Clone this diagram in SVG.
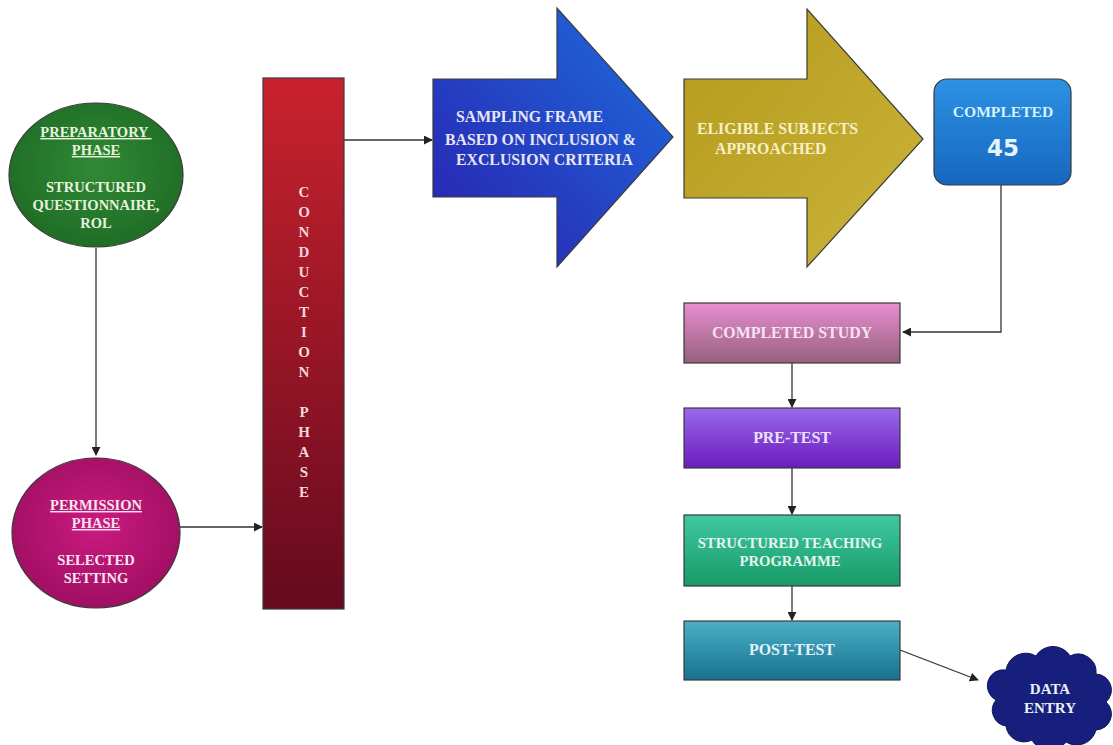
<svg xmlns="http://www.w3.org/2000/svg" width="1113" height="745" viewBox="0 0 1113 745">
<defs>
<style>
.t{font-family:"Liberation Serif","Times New Roman",serif;font-weight:bold;text-anchor:middle;}
.c{stroke:#333;stroke-width:1.3;fill:none;}
.b{stroke:#3a3a3a;stroke-width:1.2;}
</style>
<marker id="ah" viewBox="0 0 10 10" refX="9" refY="5" markerWidth="9" markerHeight="9" markerUnits="userSpaceOnUse" orient="auto">
<path d="M0,0 L10,5 L0,10 Z" fill="#222"/>
</marker>
<radialGradient id="gGreen" cx="0.5" cy="0.45" r="0.6"><stop offset="0" stop-color="#2f8a35"/><stop offset="1" stop-color="#1f6a25"/></radialGradient>
<radialGradient id="gMag" cx="0.5" cy="0.45" r="0.6"><stop offset="0" stop-color="#cc1a80"/><stop offset="1" stop-color="#9c0e60"/></radialGradient>
<linearGradient id="gRed" x1="0" y1="0" x2="0" y2="1"><stop offset="0" stop-color="#c9222e"/><stop offset="1" stop-color="#650a1e"/></linearGradient>
<linearGradient id="gBlue" x1="1" y1="0" x2="0" y2="1"><stop offset="0" stop-color="#1d6ede"/><stop offset="1" stop-color="#2a1fae"/></linearGradient>
<linearGradient id="gGold" x1="0" y1="0" x2="1" y2="1"><stop offset="0" stop-color="#b59a1c"/><stop offset="1" stop-color="#c9b43a"/></linearGradient>
<linearGradient id="gBox" x1="0" y1="0" x2="0" y2="1"><stop offset="0" stop-color="#2c92e4"/><stop offset="1" stop-color="#1766be"/></linearGradient>
<linearGradient id="gPink" x1="0" y1="0" x2="0" y2="1"><stop offset="0" stop-color="#e88ed0"/><stop offset="1" stop-color="#96607e"/></linearGradient>
<linearGradient id="gPurp" x1="0" y1="0" x2="0" y2="1"><stop offset="0" stop-color="#9a68ea"/><stop offset="1" stop-color="#6a1cbe"/></linearGradient>
<linearGradient id="gTeal" x1="0" y1="0" x2="0" y2="1"><stop offset="0" stop-color="#40c8a2"/><stop offset="1" stop-color="#189a68"/></linearGradient>
<linearGradient id="gCyan" x1="0" y1="0" x2="0" y2="1"><stop offset="0" stop-color="#4ab0c6"/><stop offset="1" stop-color="#17708f"/></linearGradient>
</defs>
<rect width="1113" height="745" fill="#ffffff"/>

<g id="connectors">
<line class="c" x1="96" y1="248" x2="96" y2="455" marker-end="url(#ah)"/>
<line class="c" x1="180" y1="527" x2="262" y2="527" marker-end="url(#ah)"/>
<line class="c" x1="344" y1="140" x2="432" y2="140" marker-end="url(#ah)"/>
<polyline class="c" points="1001,185 1001,332 903,332" marker-end="url(#ah)"/>
<line class="c" x1="792" y1="363" x2="792" y2="407" marker-end="url(#ah)"/>
<line class="c" x1="792" y1="468" x2="792" y2="514" marker-end="url(#ah)"/>
<line class="c" x1="792" y1="586" x2="792" y2="620" marker-end="url(#ah)"/>
<line class="c" x1="900" y1="650" x2="978" y2="680" marker-end="url(#ah)"/>
</g>

<g id="preparatory">
<ellipse class="b" cx="96" cy="175" rx="87" ry="72" fill="url(#gGreen)"/>
<text class="t" font-size="14.5" fill="#e6f2dc" text-decoration="underline"><tspan x="96" y="137">PREPARATORY </tspan><tspan x="96" y="155">PHASE</tspan></text>
<text class="t" font-size="14.5" fill="#e6f2dc"><tspan x="96" y="192">STRUCTURED</tspan><tspan x="96" y="210">QUESTIONNAIRE,</tspan><tspan x="96" y="228">ROL</tspan></text>
</g>

<g id="permission">
<ellipse class="b" cx="96" cy="533" rx="84" ry="75" fill="url(#gMag)"/>
<text class="t" font-size="14.5" fill="#f7e4f0" text-decoration="underline"><tspan x="96" y="510">PERMISSION</tspan><tspan x="96" y="528">PHASE</tspan></text>
<text class="t" font-size="14.5" fill="#f7e4f0"><tspan x="96" y="565">SELECTED</tspan><tspan x="96" y="583">SETTING</tspan></text>
</g>

<g id="conduction">
<rect class="b" x="263" y="78" width="81" height="531" fill="url(#gRed)"/>
<text class="t" font-size="15" fill="#f4d6dc">
<tspan x="304" y="197">C</tspan><tspan x="304" y="217">O</tspan><tspan x="304" y="237">N</tspan><tspan x="304" y="257">D</tspan><tspan x="304" y="277">U</tspan><tspan x="304" y="297">C</tspan><tspan x="304" y="317">T</tspan><tspan x="304" y="337">I</tspan><tspan x="304" y="357">O</tspan><tspan x="304" y="377">N</tspan><tspan x="304" y="417">P</tspan><tspan x="304" y="437">H</tspan><tspan x="304" y="457">A</tspan><tspan x="304" y="477">S</tspan><tspan x="304" y="497">E</tspan>
</text>
</g>

<g id="sampling">
<polygon class="b" points="433,79 557,79 557,8 673,137 557,267 557,197 433,197" fill="url(#gBlue)"/>
<text class="t" font-size="15.8" fill="#e8e6f6" style="text-anchor:start"><tspan x="456" y="122">SAMPLING FRAME</tspan><tspan x="445" y="145">BASED ON INCLUSION &amp;</tspan><tspan x="456" y="165">EXCLUSION CRITERIA</tspan></text>
</g>

<g id="eligible">
<polygon class="b" points="684,79 807,79 807,9 923,139 807,267 807,198 684,198" fill="url(#gGold)"/>
<text class="t" font-size="15.8" fill="#f6f0c4" style="text-anchor:start"><tspan x="697" y="134">ELIGIBLE SUBJECTS</tspan><tspan x="715" y="154">APPROACHED</tspan></text>
</g>

<g id="completed45">
<rect class="b" x="934" y="79" width="137" height="106" rx="13" fill="url(#gBox)"/>
<text class="t" font-size="15.6" fill="#d6f2fa" x="1003" y="117">COMPLETED</text>
<text font-family="'DejaVu Sans',sans-serif" font-weight="bold" font-size="23" fill="#e4f4fa" text-anchor="middle" x="1003" y="156">45</text>
</g>

<g id="completedStudy">
<rect class="b" x="684" y="303" width="216" height="60" fill="url(#gPink)"/>
<text class="t" font-size="15.9" fill="#f6e2f0" x="792" y="338">COMPLETED STUDY</text>
</g>

<g id="pretest">
<rect class="b" x="684" y="408" width="216" height="60" fill="url(#gPurp)"/>
<text class="t" font-size="15.9" fill="#ece0fa" x="792" y="443">PRE-TEST</text>
</g>

<g id="teaching">
<rect class="b" x="684" y="515" width="216" height="71" fill="url(#gTeal)"/>
<text class="t" font-size="14.7" fill="#e2f6ee"><tspan x="790" y="548">STRUCTURED TEACHING</tspan><tspan x="790" y="566">PROGRAMME</tspan></text>
</g>

<g id="posttest">
<rect class="b" x="684" y="621" width="216" height="59" fill="url(#gCyan)"/>
<text class="t" font-size="15.9" fill="#e2f2f8" x="792" y="655">POST-TEST</text>
</g>

<g id="dataentry">
<path d="M996,700 a16,16 0 0 1 10,-30 a20,20 0 0 1 30,-14 a20,20 0 0 1 34,0 a18,18 0 0 1 26,18 a16,16 0 0 1 10,28 a16,16 0 0 1 -10,28 a20,20 0 0 1 -30,12 a20,20 0 0 1 -34,-2 a18,18 0 0 1 -26,-14 a16,16 0 0 1 -10,-26 Z" fill="#16207c" stroke="#0e1558" stroke-width="1"/>
<text class="t" font-size="15" fill="#eef0fa"><tspan x="1050" y="694">DATA</tspan><tspan x="1050" y="713">ENTRY</tspan></text>
</g>
</svg>
